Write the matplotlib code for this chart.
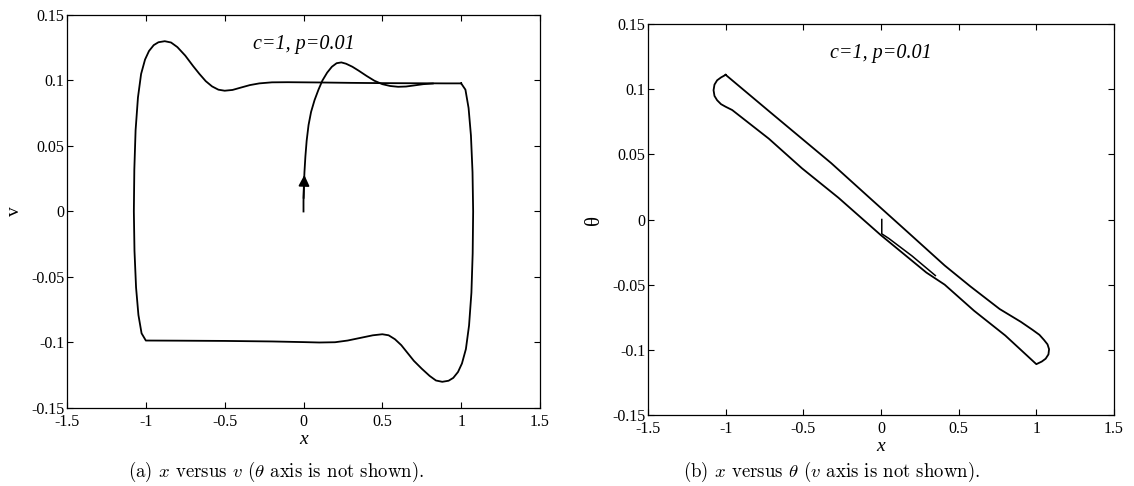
import matplotlib.pyplot as plt
import numpy as np

plt.rcParams['font.family'] = ['Liberation Serif', 'DejaVu Serif']
plt.rcParams['axes.unicode_minus'] = False
plt.rcParams['mathtext.fontset'] = 'cm'

# (a) x versus v : limit cycle (closed loop)
cyc_x = [1.0, 0.9, 0.7, 0.5, 0.3, 0.1, -0.1, -0.2, -0.28, -0.34, -0.40, -0.45, -0.50,
         -0.54, -0.58, -0.62, -0.66, -0.70, -0.75, -0.80, -0.84, -0.88, -0.92, -0.95,
         -0.98, -1.005, -1.03, -1.05, -1.065, -1.073, -1.076, -1.072, -1.062, -1.047,
         -1.027, -1.0, -0.8, -0.5, -0.2, 0.0, 0.1, 0.2, 0.28, 0.36, 0.44, 0.50, 0.54,
         0.58, 0.62, 0.66, 0.70, 0.75, 0.80, 0.84, 0.88, 0.92, 0.95, 0.98, 1.005, 1.03,
         1.05, 1.065, 1.073, 1.076, 1.072, 1.062, 1.047, 1.027, 1.0]
cyc_v = [0.0978, 0.0978, 0.0979, 0.098, 0.0982, 0.0985, 0.0987, 0.0986, 0.0978, 0.0965,
         0.0945, 0.0928, 0.0922, 0.093, 0.0955, 0.0995, 0.105, 0.111, 0.119, 0.1255,
         0.129, 0.130, 0.1292, 0.127, 0.1225, 0.116, 0.105, 0.087, 0.062, 0.032, 0.0,
         -0.030, -0.058, -0.079, -0.093, -0.0985, -0.0986, -0.0988, -0.0992, -0.0997,
         -0.100, -0.0998, -0.0985, -0.0965, -0.0945, -0.0937, -0.0945, -0.0975, -0.102,
         -0.108, -0.114, -0.120, -0.1255, -0.129, -0.130, -0.1292, -0.127, -0.1225,
         -0.116, -0.105, -0.087, -0.062, -0.032, 0.0, 0.030, 0.058, 0.079, 0.093, 0.0978]

# (a) transient from the origin
tr_x = [0.0, 0.0, 0.002, 0.006, 0.012, 0.02, 0.032, 0.048, 0.07, 0.095, 0.12, 0.15,
        0.18, 0.21, 0.24, 0.27, 0.31, 0.35, 0.40, 0.45, 0.50, 0.55, 0.60, 0.65, 0.70,
        0.76, 0.82]
tr_v = [0.0, 0.008, 0.018, 0.030, 0.042, 0.054, 0.066, 0.076, 0.085, 0.093, 0.100,
        0.106, 0.1105, 0.1132, 0.1138, 0.1128, 0.1105, 0.1075, 0.1035, 0.0998, 0.0972,
        0.0958, 0.0952, 0.0954, 0.0962, 0.0972, 0.0977]

# (b) x versus theta : limit cycle
loop_x = [-1.0, -0.85, -0.71, -0.509, -0.321, -0.061, 0.175, 0.41, 0.575, 0.764, 0.90,
          0.976, 1.02, 1.05, 1.072, 1.082, 1.078, 1.06, 1.035, 1.0, 0.80, 0.599, 0.41,
          0.292, -0.002, -0.274, -0.509, -0.722, -0.958, -1.0, -1.03, -1.055, -1.072,
          -1.078, -1.072, -1.055, -1.03, -1.0]
loop_th = [0.111, 0.096, 0.082, 0.062, 0.0433, 0.0153, -0.010, -0.0353, -0.0513,
           -0.0687, -0.0785, -0.0847, -0.0885, -0.0925, -0.0958, -0.0995, -0.1035,
           -0.1068, -0.109, -0.111, -0.089, -0.070, -0.050, -0.0407, -0.0119, 0.0167,
           0.0393, 0.062, 0.084, 0.0865, 0.0885, 0.0915, 0.0948, 0.0992, 0.1035,
           0.1068, 0.109, 0.111]

# (b) transient
tb_x = [0.005, 0.005, 0.05, 0.10, 0.15, 0.20, 0.25, 0.30, 0.35]
tb_th = [0.0, -0.011, -0.0145, -0.019, -0.0235, -0.028, -0.033, -0.038, -0.043]

xticks = [-1.5, -1, -0.5, 0, 0.5, 1, 1.5]
xticklabels = ['-1.5', '-1', '-0.5', '0', '0.5', '1', '1.5']
yticks = [-0.15, -0.1, -0.05, 0, 0.05, 0.1, 0.15]
yticklabels = ['-0.15', '-0.1', '-0.05', '0', '0.05', '0.1', '0.15']

fig = plt.figure(figsize=(11.34, 4.86), dpi=100)
W, H = 1134, 486
ax1 = fig.add_axes([67 / W, 1 - 408 / H, (540 - 67) / W, (408 - 15) / H])
ax2 = fig.add_axes([648 / W, 1 - 415 / H, (1114 - 648) / W, (415 - 24) / H])

for ax in (ax1, ax2):
    ax.set_xlim(-1.5, 1.5)
    ax.set_ylim(-0.15, 0.15)
    ax.set_xticks(xticks)
    ax.set_xticklabels(xticklabels)
    ax.set_yticks(yticks)
    ax.set_yticklabels(yticklabels)
    ax.tick_params(direction='in', top=True, right=True, length=4, width=0.8,
                   labelsize=11.5)
    ax.tick_params(axis='x', pad=4)
    ax.tick_params(axis='y', pad=2)
    for s in ax.spines.values():
        s.set_linewidth(0.9)
    ax.set_xlabel('x', fontsize=14, fontstyle='italic', labelpad=1)
    ax.text(0.5, 0.925, 'c=1, p=0.01', transform=ax.transAxes, ha='center', va='center',
            fontsize=14.5, fontstyle='italic')

ax1.plot(cyc_x, cyc_v, color='k', lw=1.3)
ax1.plot(tr_x, tr_v, color='k', lw=1.3)
ax1.annotate('', xy=(tr_x[3], tr_v[3]), xytext=(tr_x[1], tr_v[1]),
             arrowprops=dict(arrowstyle='-|>', color='k', lw=1.3, mutation_scale=16))
ax1.set_ylabel('v', fontsize=14, labelpad=6)

ax2.plot(loop_x, loop_th, color='k', lw=1.3)
ax2.plot(tb_x, tb_th, color='k', lw=1.1)
ax2.set_ylabel('θ', fontsize=15, labelpad=6)

fig.text(0.243, 0.028, r'(a) $x$ versus $v$ ($\theta$ axis is not shown).',
         family='cmr10', fontsize=13.5, ha='center', va='center')
fig.text(0.733, 0.028, r'(b) $x$ versus $\theta$ ($v$ axis is not shown).',
         family='cmr10', fontsize=13.5, ha='center', va='center')

fig.savefig('out.png', dpi=100)
